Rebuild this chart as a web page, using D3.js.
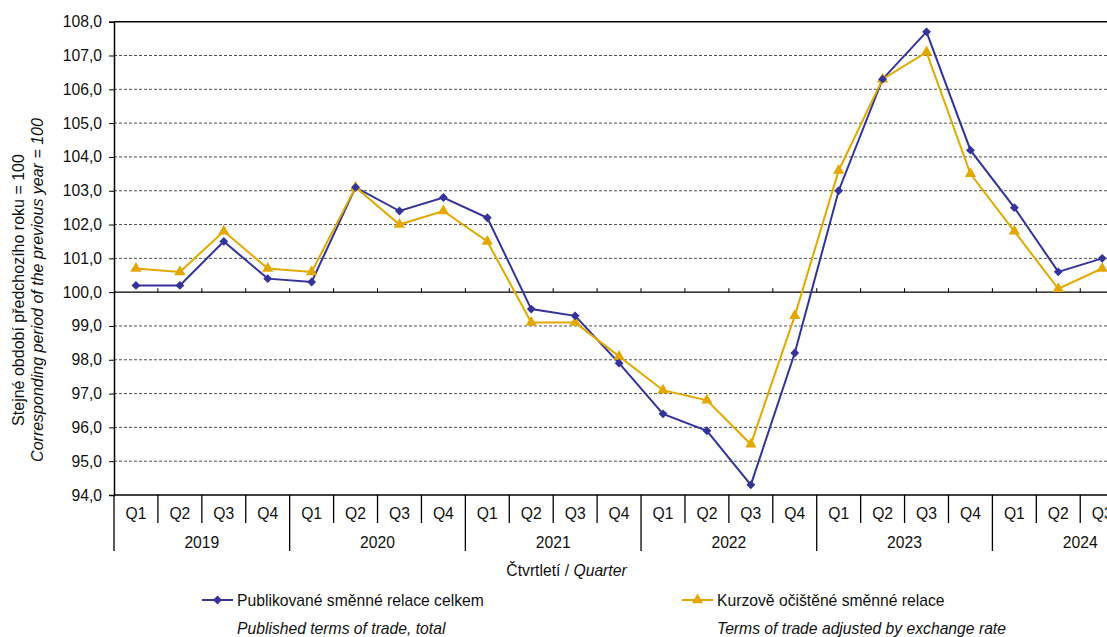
<!DOCTYPE html>
<html><head><meta charset="utf-8">
<script src="https://cdn.jsdelivr.net/npm/d3@7"></script>
<style>
body{margin:0;background:#fff;}
svg{display:block;font-family:"Liberation Sans",Arial,sans-serif;}
</style></head>
<body><svg id="c" width="1107" height="637"></svg>
<script>
const years = ["2019","2020","2021","2022","2023","2024"];
const quarters = ["Q1","Q2","Q3","Q4"];
const categories = [];
years.forEach(y => quarters.forEach(q => categories.push(y + " " + q)));
const shownCategories = categories.slice(0, 23);
const published = [100.2,100.2,101.5,100.4, 100.3,103.1,102.4,102.8, 102.2,99.5,99.3,97.9, 96.4,95.9,94.3,98.2, 103.0,106.3,107.7,104.2, 102.5,100.6,101.0];
const adjusted  = [100.7,100.6,101.8,100.7, 100.6,103.1,102.0,102.4, 101.5,99.1,99.1,98.1, 97.1,96.8,95.5,99.3, 103.6,106.3,107.1,103.5, 101.8,100.1,100.7];
const yTicks = [94,95,96,97,98,99,100,101,102,103,104,105,106,107,108];
const seriesNames = ["Publikované směnné relace celkem","Kurzově očištěné směnné relace"];
const seriesNamesEn = ["Published terms of trade, total","Terms of trade adjusted by exchange rate"];

const FS = 15.7;
const svg = d3.select("#c");
const L = 114, T = 21.7, B = 495, bw = 43.92;
const x = d3.scaleBand().domain(shownCategories).range([L, L + bw*shownCategories.length]).padding(0);
const y = d3.scaleLinear().domain([94,108]).range([B, T]);
const blue = "#333399", gold = "#E3A800";
const R = L + bw*24;

// gridlines
svg.append("g").selectAll("line").data(yTicks.filter(v => v!==94 && v!==100 && v!==108)).join("line")
  .attr("x1", L).attr("x2", R).attr("y1", d=>y(d)).attr("y2", d=>y(d))
  .attr("stroke","#222").attr("stroke-width",0.8).attr("stroke-dasharray","3,2");
// top border
svg.append("line").attr("x1",L).attr("x2",R).attr("y1",y(108)).attr("y2",y(108)).attr("stroke","#000").attr("stroke-width",1.5);

// y axis
const fmt = d => d3.format(".1f")(d).replace(".", ",");
const ya = svg.append("g").attr("transform",`translate(${L},0)`)
  .call(d3.axisLeft(y).tickValues(yTicks).tickFormat(fmt).tickSize(5).tickPadding(7));
ya.select(".domain").attr("stroke","#000").attr("stroke-width",1.5);
ya.selectAll(".tick line").attr("stroke","#000");
ya.selectAll("text").attr("font-size",FS).attr("fill","#111").attr("font-family","Liberation Sans, Arial, sans-serif");

// 100 line with small ticks
svg.append("line").attr("x1",L).attr("x2",R).attr("y1",y(100)).attr("y2",y(100)).attr("stroke","#000").attr("stroke-width",1.3);
svg.append("g").selectAll("line").data(shownCategories.slice(1)).join("line")
  .attr("x1",d=>x(d)).attr("x2",d=>x(d)).attr("y1",y(100)).attr("y2",y(100)-4).attr("stroke","#000");

// bottom axis
svg.append("line").attr("x1",L).attr("x2",R).attr("y1",B).attr("y2",B).attr("stroke","#000").attr("stroke-width",1.3);
const gx = svg.append("g");
categories.forEach((c,i) => {
  const xs = L + bw*i;
  const isYear = i % 4 === 0;
  gx.append("line").attr("x1",xs).attr("x2",xs).attr("y1",B).attr("y2", isYear ? 551 : 523).attr("stroke","#000").attr("stroke-width",1.3);
  gx.append("text").attr("x", xs + bw/2).attr("y", 518.5).attr("text-anchor","middle").attr("font-size",FS).attr("fill","#111").text(quarters[i%4]);
});
years.forEach((yr,i) => {
  gx.append("text").attr("x", L + bw*(4*i+2)).attr("y", 547.5).attr("text-anchor","middle").attr("font-size",FS).attr("fill","#111").text(yr);
});
const xt = svg.append("text").attr("x",566.5).attr("y",576).attr("text-anchor","middle").attr("font-size",FS).attr("fill","#111");
xt.append("tspan").text("Čtvrtletí / ");
xt.append("tspan").attr("font-style","italic").text("Quarter");

// y title
svg.append("text").attr("transform","translate(23.5,290) rotate(-90)").attr("text-anchor","middle").attr("font-size",16).attr("fill","#111").text("Stejné období předchozího roku = 100");
svg.append("text").attr("transform","translate(42.5,290) rotate(-90)").attr("text-anchor","middle").attr("font-size",16).attr("font-style","italic").attr("fill","#111").text("Corresponding period of  the previous year = 100");

// lines
const line = d3.line().x((d,i)=>x(shownCategories[i]) + bw/2).y(d=>y(d));
const plot = svg.append("g");
plot.append("path").datum(published).attr("d",line).attr("fill","none").attr("stroke",blue).attr("stroke-width",2);
plot.append("path").datum(adjusted).attr("d",line).attr("fill","none").attr("stroke",gold).attr("stroke-width",2);
const diamond = d3.symbol().type(d3.symbolDiamond2).size(50);
const tri = d3.symbol().type(d3.symbolTriangle).size(55);
plot.append("g").selectAll("path").data(adjusted).join("path")
  .attr("d",tri).attr("fill",gold).attr("transform",(d,i)=>`translate(${x(shownCategories[i])+bw/2},${y(d)})`);
plot.append("g").selectAll("path").data(published).join("path")
  .attr("d",diamond).attr("fill",blue).attr("transform",(d,i)=>`translate(${x(shownCategories[i])+bw/2},${y(d)})`);

// legend
const lg = svg.append("g");
const items = [{x:202, c:blue, s:diamond},{x:682, c:gold, s:tri}];
items.forEach((it,i)=>{
  lg.append("line").attr("x1",it.x).attr("x2",it.x+31).attr("y1",600).attr("y2",600).attr("stroke",it.c).attr("stroke-width",2);
  lg.append("path").attr("d",it.s).attr("fill",it.c).attr("transform",`translate(${it.x+15.5},600)`);
  lg.append("text").attr("x",it.x+35).attr("y",605.5).attr("font-size",FS).attr("fill","#111").text(seriesNames[i]);
  lg.append("text").attr("x",it.x+35).attr("y",634).attr("font-size",FS).attr("font-style","italic").attr("fill","#111").text(seriesNamesEn[i]);
});
</script></body></html>
